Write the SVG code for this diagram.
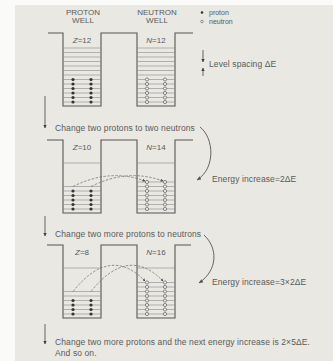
<svg xmlns="http://www.w3.org/2000/svg" width="333" height="361" viewBox="0 0 333 361">
<style>
  .bg{fill:#e9e8e3}
  .well{fill:none;stroke:#555;stroke-width:1.1}
  .lev{fill:none;stroke:#888;stroke-width:0.6}
  .t{font-family:"Liberation Sans",Arial,sans-serif;font-size:8.5px;letter-spacing:0.1px;fill:#5a5a5a}
  .lg{font-family:"Liberation Sans",Arial,sans-serif;font-size:7px;fill:#5a5a5a}
  .lab{font-family:"Liberation Sans",Arial,sans-serif;font-size:8px;fill:#5a5a5a;text-anchor:middle}
  .it{font-style:italic}
  .arr{fill:none;stroke:#555;stroke-width:0.9}
  .dash{fill:none;stroke:#666;stroke-width:0.7;stroke-dasharray:2.5 1.5}
  .p{fill:#333}
  .n{fill:#eee;stroke:#444;stroke-width:0.6}
</style>
<defs>
  <marker id="ah" viewBox="0 0 10 10" refX="9" refY="5" markerWidth="4" markerHeight="4" orient="auto">
    <path d="M0 0L10 5L0 10z" fill="#444"/>
  </marker>
  <marker id="ahs" viewBox="0 0 10 10" refX="9" refY="5" markerWidth="5" markerHeight="5" orient="auto">
    <path d="M0 1L10 5L0 9z" fill="#555"/>
  </marker>
  <circle id="pd" r="1.6" class="p"/>
  <circle id="nd" r="1.6" class="n"/>
</defs>
<rect width="333" height="361" fill="#fafaf8"/>
<rect x="15" y="5" width="318" height="356" class="bg"/>

<!-- header labels -->
<g id="labels">
  <text class="lab" x="83" y="15">PROTON</text>
  <text class="lab" x="83" y="23">WELL</text>
  <text class="lab" x="157" y="15">NEUTRON</text>
  <text class="lab" x="157" y="23">WELL</text>
</g>
<g id="legend">
  <circle cx="202" cy="12.5" r="1.3" fill="#333"/>
  <text class="lg" x="209" y="14.5">proton</text>
  <circle cx="202" cy="21.5" r="1.3" fill="none" stroke="#444" stroke-width="0.5"/>
  <text class="lg" x="209" y="23.5">neutron</text>
</g>
<g id="spacing">
  <path class="arr" d="M203 50V62" marker-end="url(#ah)"/>
  <path class="arr" d="M203 76V68" marker-end="url(#ah)"/>
  <text class="t" x="209" y="67">Level spacing ΔE</text>
</g>

<!-- Panel 1 -->
<g id="panel1">
  <path class="well" d="M48 33H63V106H101V33H137V106H175V33H193"/>
  <text class="lab" x="82" y="43"><tspan class="it">Z</tspan>=12</text>
  <text class="lab" x="156" y="43"><tspan class="it">N</tspan>=12</text>
  <path class="lev" d="M63 102H101M63 97.5H101M63 93H101M63 88.5H101M63 84H101M63 79.5H101M63 75H101M63 70.5H101M63 66H101M63 61.5H101M63 57H101M63 52.5H101M63 48H101"/>
  <path class="lev" d="M137 102H175M137 97.5H175M137 93H175M137 88.5H175M137 84H175M137 79.5H175M137 75H175M137 70.5H175M137 66H175M137 61.5H175M137 57H175M137 52.5H175M137 48H175"/>
  <g id="p1protons">
    <use href="#pd" x="73" y="102"/><use href="#pd" x="73" y="97.5"/><use href="#pd" x="73" y="93"/><use href="#pd" x="73" y="88.5"/><use href="#pd" x="73" y="84"/><use href="#pd" x="73" y="79.5"/>
    <use href="#pd" x="91" y="102"/><use href="#pd" x="91" y="97.5"/><use href="#pd" x="91" y="93"/><use href="#pd" x="91" y="88.5"/><use href="#pd" x="91" y="84"/><use href="#pd" x="91" y="79.5"/>
  </g>
  <g id="p1neutrons">
    <use href="#nd" x="147" y="102"/><use href="#nd" x="147" y="97.5"/><use href="#nd" x="147" y="93"/><use href="#nd" x="147" y="88.5"/><use href="#nd" x="147" y="84"/><use href="#nd" x="147" y="79.5"/>
    <use href="#nd" x="165" y="102"/><use href="#nd" x="165" y="97.5"/><use href="#nd" x="165" y="93"/><use href="#nd" x="165" y="88.5"/><use href="#nd" x="165" y="84"/><use href="#nd" x="165" y="79.5"/>
  </g>
</g>

<!-- Panel 2 -->
<g id="panel2">
  <path class="well" d="M47 140H63V213H101V140H137V213H175V140H193"/>
  <text class="lab" x="82" y="150"><tspan class="it">Z</tspan>=10</text>
  <text class="lab" x="156" y="150"><tspan class="it">N</tspan>=14</text>
  <path class="lev" d="M63 163H101M63 209H101M63 204.5H101M63 200H101M63 195.5H101M63 191H101M63 186.5H101"/>
  <path class="lev" d="M137 163H175M137 209H175M137 204.5H175M137 200H175M137 195.5H175M137 191H175M137 186.5H175M137 182H175"/>
  <g id="p2protons">
    <use href="#pd" x="73" y="209"/><use href="#pd" x="73" y="204.5"/><use href="#pd" x="73" y="200"/><use href="#pd" x="73" y="195.5"/><use href="#pd" x="73" y="191"/>
    <use href="#pd" x="91" y="209"/><use href="#pd" x="91" y="204.5"/><use href="#pd" x="91" y="200"/><use href="#pd" x="91" y="195.5"/><use href="#pd" x="91" y="191"/>
  </g>
  <g id="p2neutrons">
    <use href="#nd" x="147" y="209"/><use href="#nd" x="147" y="204.5"/><use href="#nd" x="147" y="200"/><use href="#nd" x="147" y="195.5"/><use href="#nd" x="147" y="191"/><use href="#nd" x="147" y="186.5"/><use href="#nd" x="147" y="182"/>
    <use href="#nd" x="165" y="209"/><use href="#nd" x="165" y="204.5"/><use href="#nd" x="165" y="200"/><use href="#nd" x="165" y="195.5"/><use href="#nd" x="165" y="191"/><use href="#nd" x="165" y="186.5"/><use href="#nd" x="165" y="182"/>
  </g>
  <text class="t" x="212" y="182">Energy increase=2ΔE</text>
</g>

<!-- Panel 3 -->
<g id="panel3">
  <path class="well" d="M47 245H63V318H101V245H137V318H175V245H191"/>
  <text class="lab" x="82" y="255"><tspan class="it">Z</tspan>=8</text>
  <text class="lab" x="156" y="255"><tspan class="it">N</tspan>=16</text>
  <path class="lev" d="M63 268H101M63 314H101M63 309.5H101M63 305H101M63 300.5H101M63 296H101M63 291.5H101"/>
  <path class="lev" d="M137 268H175M137 314H175M137 309.5H175M137 305H175M137 300.5H175M137 296H175M137 291.5H175M137 287H175M137 282.5H175"/>
  <g id="p3protons">
    <use href="#pd" x="73" y="314"/><use href="#pd" x="73" y="309.5"/><use href="#pd" x="73" y="305"/><use href="#pd" x="73" y="300.5"/>
    <use href="#pd" x="91" y="314"/><use href="#pd" x="91" y="309.5"/><use href="#pd" x="91" y="305"/><use href="#pd" x="91" y="300.5"/>
  </g>
  <g id="p3neutrons">
    <use href="#nd" x="147" y="314"/><use href="#nd" x="147" y="309.5"/><use href="#nd" x="147" y="305"/><use href="#nd" x="147" y="300.5"/><use href="#nd" x="147" y="296"/><use href="#nd" x="147" y="291.5"/><use href="#nd" x="147" y="287"/><use href="#nd" x="147" y="282.5"/>
    <use href="#nd" x="165" y="314"/><use href="#nd" x="165" y="309.5"/><use href="#nd" x="165" y="305"/><use href="#nd" x="165" y="300.5"/><use href="#nd" x="165" y="296"/><use href="#nd" x="165" y="291.5"/><use href="#nd" x="165" y="287"/><use href="#nd" x="165" y="282.5"/>
  </g>
  <text class="t" x="212" y="285">Energy increase=3×2ΔE</text>
</g>

<!-- step texts -->
<g id="steps">
  <text class="t" x="55" y="131">Change two protons to two neutrons</text>
  <text class="t" x="55" y="237">Change two more protons to neutrons</text>
  <text class="t" x="55" y="345">Change two more protons and the next energy increase is 2×5ΔE.</text>
  <text class="t" x="55" y="355.5">And so on.</text>
</g>

<!-- connectors -->
<g id="connectors">
  <path class="arr" d="M45 96V128" marker-end="url(#ah)"/>
  <path class="arr" d="M45 216V236" marker-end="url(#ah)"/>
  <path class="arr" d="M45 324V344" marker-end="url(#ah)"/>
  <path class="arr" d="M200 127C214 138 216 168 197 180" marker-end="url(#ahs)"/>
  <path class="arr" d="M204 235C218 248 218 270 199 283" marker-end="url(#ahs)"/>
  <path class="dash" d="M73 186.5Q110 168 145 181" marker-end="url(#ah)"/>
  <path class="dash" d="M91 186.5Q128 168 163 181" marker-end="url(#ah)"/>
  <path class="dash" d="M73 291.5Q110 245 145 281" marker-end="url(#ah)"/>
  <path class="dash" d="M91 291.5Q128 245 163 281" marker-end="url(#ah)"/>
</g>
</svg>
